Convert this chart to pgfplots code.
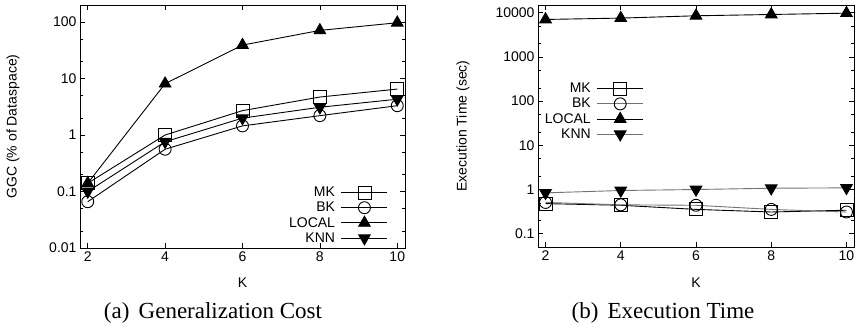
\documentclass[border=0pt]{standalone}
\usepackage{fontspec}
\setmainfont{Liberation Sans}
\newfontfamily\capfont{Liberation Serif}
\usepackage{pgfplots}
\pgfplotsset{compat=1.18}

\pgfplotsset{
 mk/.style={black, mark=square, mark size=6.5pt, mark options={solid}},
 bk/.style={black, mark=o, mark size=6pt, mark options={solid}},
 loc/.style={black, mark=triangle*, mark size=6.7pt, mark options={solid}},
 knn/.style={black, mark=triangle*, mark size=6.7pt, mark options={solid, rotate=180}},
}

\begin{document}
\begin{tikzpicture}
\path[use as bounding box] (0,0) rectangle (859pt,330pt);

\begin{semilogyaxis}[
  scale only axis,
  xmin=1.8, xmax=10.2,
  xtick={2,4,6,8,10},
  tick align=inside,
  major tick length=5pt, minor tick length=3pt,
  axis line style={line width=0.9pt},
  every tick/.style={black, line width=0.6pt},
  tick label style={font=\fontsize{14}{16}\selectfont},
  /pgf/number format/assume math mode=true,
  xlabel={K},
  legend plot pos=right,
  legend cell align=right,
  legend style={draw=none, fill=none, font=\fontsize{14}{14}\selectfont, row sep=0pt, inner sep=0pt, column sep=4pt},
  legend image code/.code={\draw[mark repeat=2,mark phase=2] plot coordinates {(0pt,0pt)(23pt,0pt)(46pt,0pt)};},
  every axis plot/.append style={line width=0.9pt},
  at={(80pt,82pt)}, anchor=south west,
  width=325pt, height=243pt,
  ymin=0.01, ymax=200,
  ytick={0.01,0.1,1,10,100},
  yticklabels={0.01,0.1,1,10,100},
  minor ytick={0.02,0.05,0.2,0.5,2,5,20,50},
  ylabel={GGC (\% of Dataspace)},
  every axis y label/.style={at={(axis description cs:-0.206,0.5)}, rotate=90, anchor=center, font=\fontsize{14}{16}\selectfont},
  every axis x label/.style={at={(axis description cs:0.5,-0.144)}, anchor=center, font=\fontsize{14}{16}\selectfont},
  legend style={at={(axis description cs:0.948,0.26)}, anchor=north east},
]
\addplot[mk] coordinates {(2,0.14) (4,1.0) (6,2.7) (8,4.7) (10,6.5)};
\addplot[bk] coordinates {(2,0.066) (4,0.56) (6,1.45) (8,2.2) (10,3.3)};
\addplot[loc] coordinates {(2,0.14) (4,8.1) (6,39) (8,71) (10,97)};
\addplot[knn] coordinates {(2,0.10) (4,0.76) (6,1.99) (8,3.1) (10,4.3)};
\legend{MK,BK,LOCAL,KNN}
\end{semilogyaxis}

\begin{semilogyaxis}[
  scale only axis,
  xmin=1.8, xmax=10.2,
  xtick={2,4,6,8,10},
  tick align=inside,
  major tick length=5pt, minor tick length=3pt,
  axis line style={line width=0.9pt},
  every tick/.style={black, line width=0.6pt},
  tick label style={font=\fontsize{14}{16}\selectfont},
  /pgf/number format/assume math mode=true,
  xlabel={K},
  legend plot pos=right,
  legend cell align=right,
  legend style={draw=none, fill=none, font=\fontsize{14}{14}\selectfont, row sep=0pt, inner sep=0pt, column sep=4pt},
  legend image code/.code={\draw[mark repeat=2,mark phase=2] plot coordinates {(0pt,0pt)(23pt,0pt)(46pt,0pt)};},
  every axis plot/.append style={line width=0.9pt},
  at={(538pt,83pt)}, anchor=south west,
  width=316pt, height=242pt,
  ymin=0.05, ymax=15000,
  ytick={0.1,1,10,100,1000,10000},
  yticklabels={0.1,1,10,100,1000,10000},
  minor ytick={0.2,0.5,2,5,20,50,200,500,2000,5000},
  ylabel={Execution Time (sec)},
  every axis y label/.style={at={(axis description cs:-0.237,0.5)}, rotate=90, anchor=center, font=\fontsize{14}{16}\selectfont},
  every axis x label/.style={at={(axis description cs:0.5,-0.149)}, anchor=center, font=\fontsize{14}{16}\selectfont},
  legend style={at={(axis description cs:0.335,0.686)}, anchor=north east},
]
\addplot[mk] coordinates {(2,0.48) (4,0.44) (6,0.355) (8,0.31) (10,0.34)};
\addplot[black!55, mark=o, mark size=6pt, mark options={solid, black}] coordinates {(2,0.51) (4,0.45) (6,0.44) (8,0.355) (10,0.31)};
\addplot[loc] coordinates {(2,7060) (4,7580) (6,8550) (8,9150) (10,9800)};
\addplot[black!55, mark=triangle*, mark size=6.7pt, mark options={solid, black, rotate=180}] coordinates {(2,0.84) (4,0.95) (6,1.0) (8,1.07) (10,1.09)};
\legend{MK,BK,LOCAL,KNN}
\end{semilogyaxis}

\node[font=\capfont\fontsize{23}{25}\selectfont] at (213pt,17pt) {(a)\hspace{0.4em}Generalization Cost};
\node[font=\capfont\fontsize{23}{25}\selectfont] at (663pt,17pt) {(b)\hspace{0.4em}Execution Time};
\end{tikzpicture}
\end{document}
